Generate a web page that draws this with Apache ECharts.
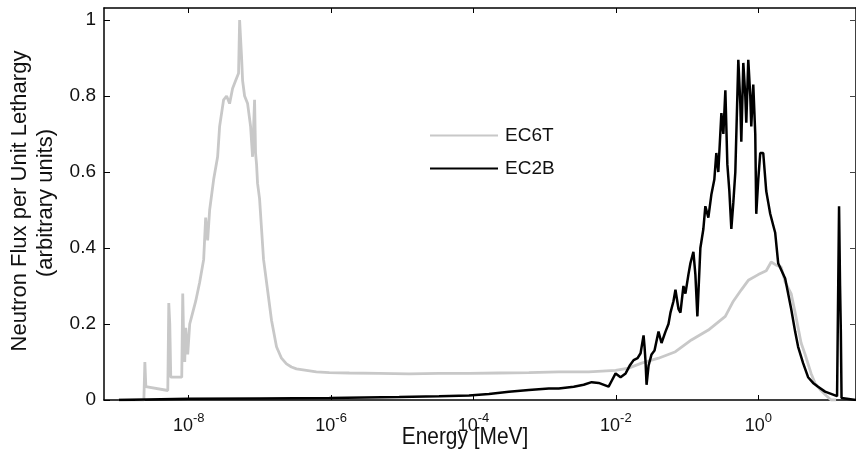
<!DOCTYPE html>
<html>
<head>
<meta charset="utf-8">
<script src="https://cdn.jsdelivr.net/npm/echarts@6/dist/echarts.min.js"></script>
<style>
html,body{margin:0;padding:0;background:#fff;}
#chart{width:856px;height:454px;}
</style>
</head>
<body>
<div id="chart"></div>
<script>
// log10 of energy [MeV] and relative flux values
const ec6tLogE = [-8.981,-8.630,-8.616,-8.602,-8.588,-8.294,-8.280,-8.266,-8.252,-8.238,-8.098,-8.084,-8.070,-8.056,-8.042,-8.014,-7.986,-7.958,-7.902,-7.846,-7.790,-7.762,-7.734,-7.706,-7.650,-7.594,-7.566,-7.510,-7.468,-7.426,-7.384,-7.342,-7.300,-7.285,-7.271,-7.257,-7.243,-7.215,-7.173,-7.131,-7.103,-7.075,-7.061,-7.047,-7.033,-7.005,-6.977,-6.949,-6.893,-6.837,-6.767,-6.697,-6.627,-6.557,-6.487,-6.347,-6.207,-6.025,-5.744,-5.324,-4.904,-4.483,-4.063,-3.643,-3.222,-2.802,-2.382,-2.004,-1.821,-1.639,-1.401,-1.163,-0.939,-0.701,-0.463,-0.350,-0.238,-0.140,0.000,0.112,0.182,0.252,0.322,0.378,0.462,0.518,0.560,0.602,0.658,0.700,0.742,0.798,0.882,0.953,1.023,1.093,1.373];
const ec6tFlux = [0,0,0.10,0.035,0.03,0.025,0.255,0.20,0.06,0.06,0.06,0.28,0.15,0.10,0.19,0.12,0.20,0.22,0.26,0.31,0.37,0.48,0.42,0.50,0.58,0.64,0.72,0.79,0.80,0.78,0.82,0.84,0.86,1.0,0.95,0.90,0.84,0.80,0.78,0.72,0.64,0.79,0.65,0.62,0.57,0.53,0.45,0.37,0.29,0.21,0.14,0.11,0.095,0.087,0.082,0.078,0.074,0.072,0.071,0.070,0.069,0.070,0.070,0.071,0.072,0.074,0.074,0.078,0.084,0.097,0.11,0.127,0.158,0.184,0.22,0.26,0.29,0.315,0.33,0.34,0.363,0.355,0.35,0.31,0.28,0.23,0.19,0.15,0.12,0.095,0.07,0.044,0.025,0.012,0,0];

const ec2bLogE = [-8.981,-8.0,-7.005,-6.025,-5.044,-4.483,-4.063,-3.783,-3.503,-3.222,-2.942,-2.802,-2.592,-2.452,-2.340,-2.242,-2.102,-2.060,-2.004,-1.934,-1.863,-1.807,-1.751,-1.695,-1.653,-1.625,-1.611,-1.597,-1.583,-1.569,-1.541,-1.499,-1.457,-1.401,-1.359,-1.303,-1.261,-1.233,-1.191,-1.163,-1.121,-1.093,-1.051,-1.023,-0.981,-0.953,-0.911,-0.883,-0.855,-0.813,-0.771,-0.743,-0.701,-0.659,-0.617,-0.589,-0.561,-0.518,-0.490,-0.462,-0.434,-0.406,-0.378,-0.350,-0.322,-0.280,-0.252,-0.238,-0.210,-0.182,-0.168,-0.140,-0.112,-0.098,-0.070,-0.042,-0.028,0.000,0.028,0.070,0.112,0.140,0.168,0.210,0.238,0.280,0.378,0.462,0.518,0.560,0.630,0.700,0.770,0.840,0.938,1.023,1.107,1.128,1.135,1.149,1.160,1.170,1.185,1.373];
const ec2bFlux = [0,0.003,0.004,0.005,0.008,0.010,0.012,0.016,0.022,0.026,0.030,0.030,0.035,0.040,0.047,0.045,0.035,0.05,0.07,0.06,0.07,0.09,0.105,0.11,0.123,0.125,0.17,0.14,0.10,0.04,0.09,0.12,0.13,0.18,0.15,0.18,0.20,0.23,0.26,0.29,0.24,0.23,0.30,0.28,0.33,0.36,0.39,0.33,0.22,0.40,0.45,0.51,0.48,0.54,0.58,0.65,0.60,0.755,0.70,0.815,0.62,0.55,0.45,0.52,0.60,0.895,0.78,0.68,0.887,0.80,0.73,0.895,0.80,0.72,0.83,0.70,0.49,0.58,0.65,0.65,0.55,0.52,0.49,0.46,0.44,0.36,0.32,0.24,0.18,0.14,0.097,0.06,0.045,0.035,0.022,0.016,0.010,0.008,0.51,0.30,0.18,0.005,0,0];

const xTickExponents = [-8,-6,-4,-2,0];
const yTickValues = [0,0.2,0.4,0.6,0.8,1];
const seriesNames = ['EC6T','EC2B'];

const font = '"Liberation Sans", Arial, sans-serif';
const chart = echarts.init(document.getElementById('chart'), null, {renderer:'canvas'});

function pairs(xs, ys){ return xs.map((x,i)=>[x, ys[i]]); }

const xMin = -9.19, xMax = 1.373, yMax = 1.0316;

const option = {
  animation:false,
  backgroundColor:'#fff',
  grid:{left:104, top:8, width:754, height:392, containLabel:false},
  legend:{
    orient:'vertical', left:425, top:121, itemWidth:68, itemHeight:14, itemGap:14,
    icon:'path://M0,6L68,6L68,8L0,8Z',
    data:seriesNames,
    textStyle:{fontFamily:font, fontSize:19, color:'#111', padding:[0,0,0,2]}
  },
  xAxis:[{
    type:'value', min:xMin, max:xMax, position:'bottom',
    axisLine:{show:true, onZero:false, lineStyle:{color:'#000', width:1.5}},
    axisTick:{show:true, inside:true, length:5, customValues:xTickExponents, lineStyle:{color:'#000', width:1}},
    axisLabel:{show:true, customValues:xTickExponents, margin:12,
      formatter:v=>'{b|10}{s|'+(v<0?'-':'')+Math.abs(v)+'}',
      rich:{b:{fontFamily:font, fontSize:18, color:'#111', verticalAlign:'bottom'},
            s:{fontFamily:font, fontSize:13, color:'#111', verticalAlign:'bottom', padding:[0,0,10,0]}}},
    splitLine:{show:false}
  },{
    type:'value', min:xMin, max:xMax, position:'top',
    axisLine:{show:true, onZero:false, lineStyle:{color:'#000', width:1.5}},
    axisTick:{show:true, inside:true, length:5, customValues:xTickExponents, lineStyle:{color:'#000', width:1}},
    axisLabel:{show:false}, splitLine:{show:false}
  }],
  yAxis:[{
    type:'value', min:0, max:yMax, position:'left',
    axisLine:{show:true, onZero:false, lineStyle:{color:'#000', width:1.5}},
    axisTick:{show:true, inside:true, length:6, customValues:yTickValues, lineStyle:{color:'#000', width:1}},
    axisLabel:{show:true, customValues:yTickValues, margin:8, fontFamily:font, fontSize:19, color:'#111',
      formatter:v=>String(v)},
    splitLine:{show:false}
  },{
    type:'value', min:0, max:yMax, position:'right',
    axisLine:{show:true, onZero:false, lineStyle:{color:'#000', width:1.5}},
    axisTick:{show:true, inside:true, length:6, customValues:yTickValues, lineStyle:{color:'#444', width:1}},
    axisLabel:{show:false}, splitLine:{show:false}
  }],
  graphic:[
    {type:'text', x:465, y:449, scaleX:0.87, style:{text:'Energy [MeV]', fontFamily:font, fontSize:24, fill:'#111', textAlign:'center', textVerticalAlign:'bottom'}},
    {type:'text', rotation:Math.PI/2, x:20, y:201, style:{text:'Neutron Flux per Unit Lethargy', fontFamily:font, fontSize:22, fill:'#111', textAlign:'center', textVerticalAlign:'middle'}},
    {type:'text', rotation:Math.PI/2, x:46, y:203, style:{text:'(arbitrary units)', fontFamily:font, fontSize:22, fill:'#111', textAlign:'center', textVerticalAlign:'middle'}}
  ],
  series:[{
    name:seriesNames[0], type:'line', showSymbol:false, symbol:'none',
    data:pairs(ec6tLogE, ec6tFlux), xAxisIndex:0, yAxisIndex:0,
    lineStyle:{color:'#c8c8c8', width:2.8}, itemStyle:{color:'#c8c8c8'}, z:2
  },{
    name:seriesNames[1], type:'line', showSymbol:false, symbol:'none',
    data:pairs(ec2bLogE, ec2bFlux), xAxisIndex:0, yAxisIndex:0,
    lineStyle:{color:'#000', width:2.5}, itemStyle:{color:'#000'}, z:3
  }]
};
chart.setOption(option);
</script>
</body>
</html>
